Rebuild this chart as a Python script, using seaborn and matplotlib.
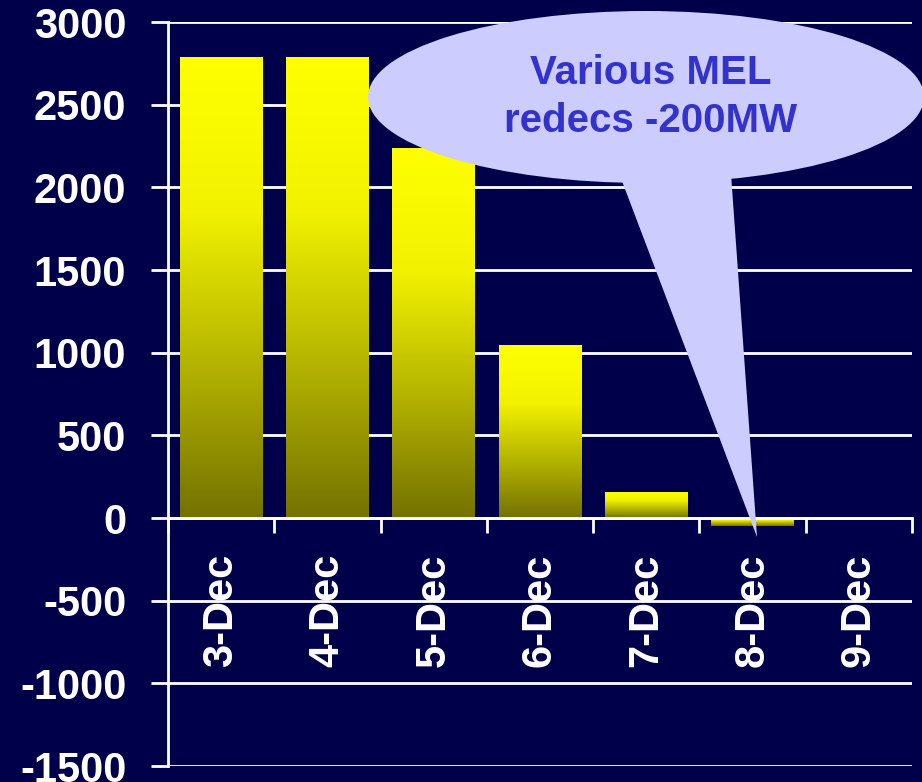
import numpy as np
import pandas as pd
import matplotlib
matplotlib.use("Agg")
import matplotlib.pyplot as plt
import seaborn as sns
from matplotlib.patches import Ellipse, Polygon
from matplotlib.colors import LinearSegmentedColormap
from matplotlib.ticker import FixedLocator

dates = ["3-Dec", "4-Dec", "5-Dec", "6-Dec", "7-Dec", "8-Dec", "9-Dec"]
values = [2790, 2790, 2240, 1045, 160, -50, 0]
y_ticks = [-1500, -1000, -500, 0, 500, 1000, 1500, 2000, 2500, 3000]
callout_text = "Various MEL\nredecs -200MW"

BG = "#00004A"
sns.set_theme(style="white")
plt.rcParams["font.family"] = ["Liberation Sans", "DejaVu Sans"]
plt.rcParams["font.weight"] = "bold"
plt.rcParams["axes.unicode_minus"] = False

W, H = 922, 782
fig = plt.figure(figsize=(W / 100, H / 100), dpi=100, facecolor=BG)
ax = fig.add_axes([168 / W, (H - 766) / H, (912 - 168) / W, (766 - 22) / H])
ax.set_facecolor(BG)

df = pd.DataFrame({"date": dates, "value": values})
sns.barplot(data=df, x="date", y="value", color="yellow", width=0.78, ax=ax,
            saturation=1, zorder=3)

# gradient fill for bars
cmap = LinearSegmentedColormap.from_list("yg", ["#747200", "#B4B400", "#F2F200", "#FFFF00"])
grad = np.linspace(0, 1, 256).reshape(-1, 1)
for p in ax.patches:
    x0, y0 = p.get_x(), p.get_y()
    w, h = p.get_width(), p.get_height()
    if h == 0:
        continue
    ylo, yhi = min(y0, y0 + h), max(y0, y0 + h)
    im = ax.imshow(grad, extent=[x0, x0 + w, ylo, yhi], origin="lower",
                   cmap=cmap, aspect="auto", zorder=3)
    im.set_clip_path(p)
    p.set_facecolor("none")
    p.set_edgecolor("none")
ax.set_xlim(-0.5, len(dates) - 0.5)
ax.set_ylim(-1500, 3000)

# grid and spines
ax.set_yticks(y_ticks)
ax.yaxis.grid(True, color="white", linewidth=2, zorder=1)
ax.set_axisbelow(True)
for s in ["top", "right"]:
    ax.spines[s].set_visible(False)
ax.spines["left"].set_color("white")
ax.spines["left"].set_linewidth(2)
ax.spines["bottom"].set_position(("data", 0))
ax.spines["bottom"].set_color("white")
ax.spines["bottom"].set_linewidth(2)
ax.spines["bottom"].set_zorder(4)

ax.tick_params(axis="y", left=True, colors="white", length=12, width=2, pad=18,
               labelsize=30, direction="out")
ax.tick_params(axis="x", which="major", bottom=True, length=0, pad=26, labelsize=30,
               labelcolor="white", labelrotation=90)
ax.xaxis.set_minor_locator(FixedLocator(np.arange(-0.5, len(dates), 1.0)))
ax.tick_params(axis="x", which="minor", bottom=True, length=11, width=2, color="white",
               direction="out")
for lab in ax.get_xticklabels() + ax.get_yticklabels():
    lab.set_fontweight("bold")
    lab.set_color("white")
for lab in ax.get_xticklabels():
    lab.set_verticalalignment("top")
ax.set_xlabel("")
ax.set_ylabel("")

# callout overlay
ov = fig.add_axes([0, 0, 1, 1], facecolor="none")
ov.set_xlim(0, W)
ov.set_ylim(H, 0)
ov.axis("off")
fill = "#CCCCFF"
ov.add_patch(Polygon([[614, 160], [730, 160], [757, 537]], closed=True,
                     facecolor=fill, edgecolor="none"))
ov.add_patch(Ellipse((646, 97), 556, 172, facecolor=fill, edgecolor="none"))
ov.text(651, 97, callout_text, ha="center", va="center", fontsize=29,
        fontweight="bold", color="#3333CC", linespacing=1.35)

fig.savefig("out.png", dpi=100, facecolor=BG)
